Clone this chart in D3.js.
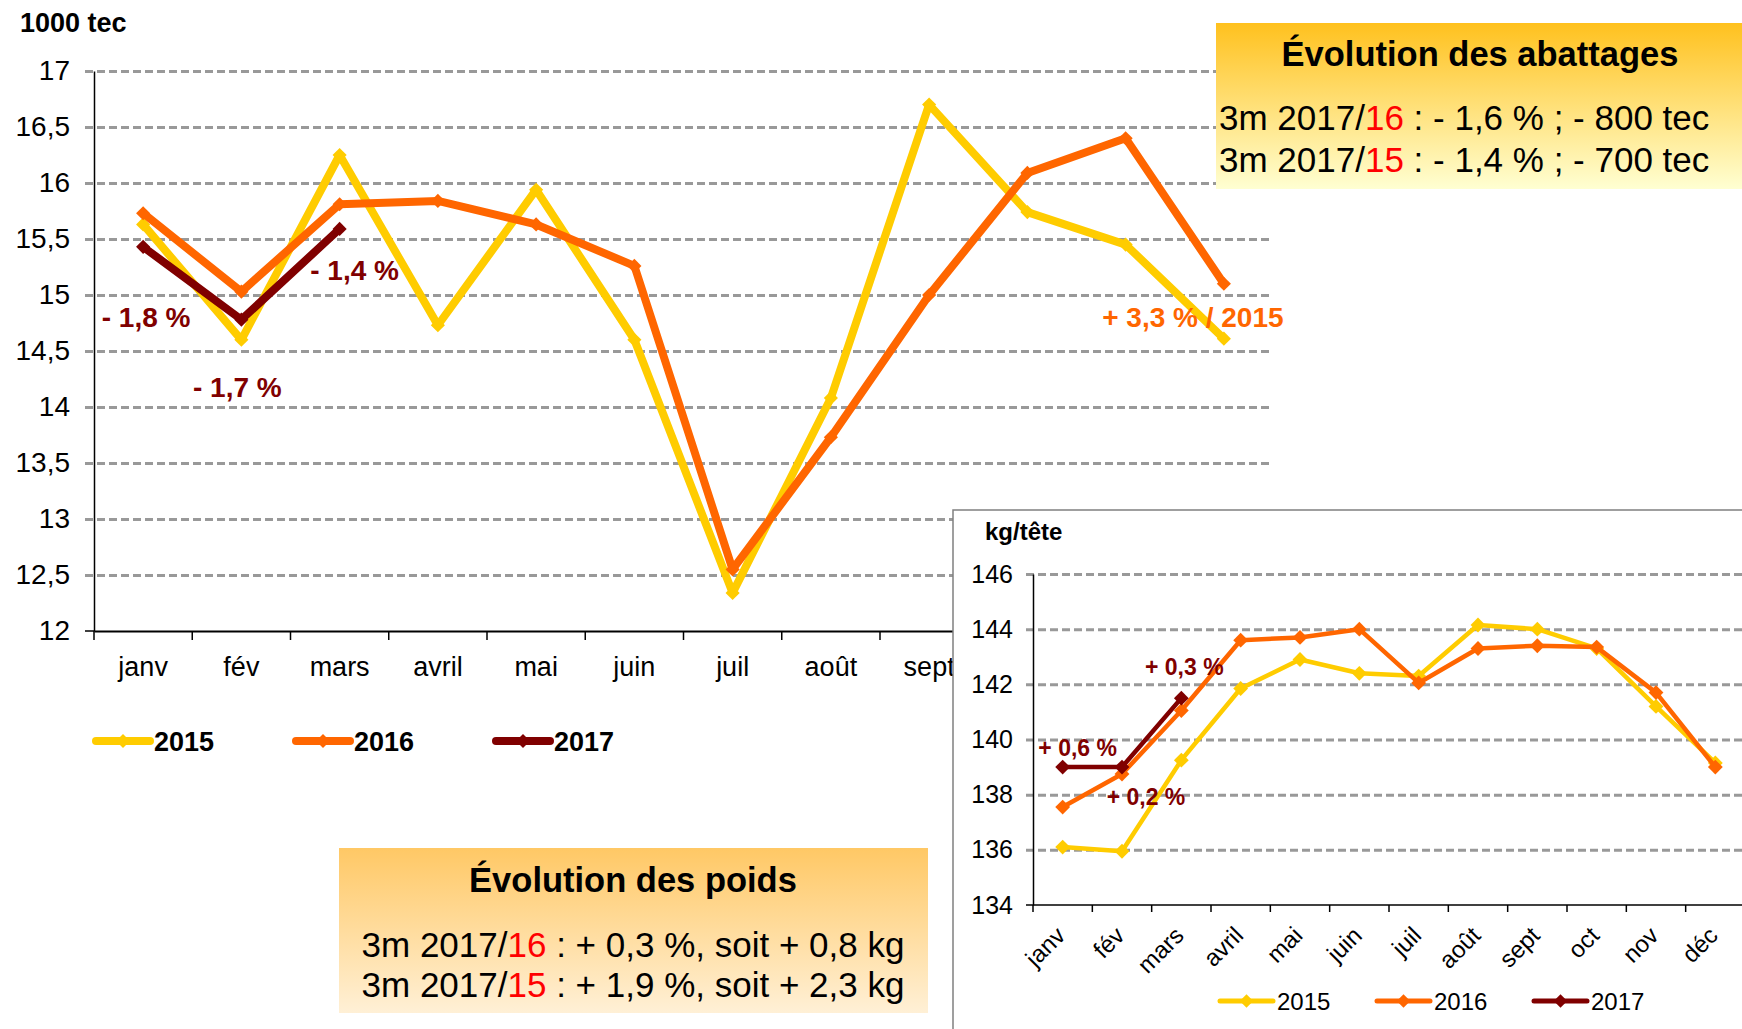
<!DOCTYPE html>
<html>
<head>
<meta charset="utf-8">
<script src="https://cdn.jsdelivr.net/npm/d3@7"></script>
<style>
  body { margin: 0; background: #fff; }
  svg { display: block; font-family: "Liberation Sans", Arial, sans-serif; }
</style>
</head>
<body>
<div id="chart"></div>
<script>
// months (same for both charts)
const months = ['janv', 'fév', 'mars', 'avril', 'mai', 'juin', 'juil', 'août', 'sept', 'oct', 'nov', 'déc'];
const years = ['2015', '2016', '2017'];
const colors = ['#FFCC00', '#FF6600', '#800000'];

// abattages, 1000 tec
const abat2015 = [15.63, 14.60, 16.25, 14.73, 15.94, 14.60, 12.34, 14.08, 16.70, 15.74, 15.45, 14.61];
const abat2016 = [15.73, 15.03, 15.81, 15.84, 15.63, 15.26, 12.55, 13.73, 15.00, 16.09, 16.40, 15.10];
const abat2017 = [15.43, 14.78, 15.59];
const abatTicks = [12, 12.5, 13, 13.5, 14, 14.5, 15, 15.5, 16, 16.5, 17];

// poids, kg/tête
const poids2015 = [136.1, 135.95, 139.25, 141.85, 142.9, 142.4, 142.3, 144.15, 144.0, 143.3, 141.2, 139.15];
const poids2016 = [137.55, 138.75, 141.05, 143.6, 143.7, 144.0, 142.05, 143.3, 143.4, 143.35, 141.7, 139.0];
const poids2017 = [139.0, 139.0, 141.5];
const poidsTicks = [134, 136, 138, 140, 142, 144, 146];

// annotations: text, month, value, x shift
const abatNotes = [
  { text: '- 1,8 %', m: 'janv', v: 14.80, dx: 3, color: '#800000' },
  { text: '- 1,7 %', m: 'fév', v: 14.18, dx: -4, color: '#800000' },
  { text: '- 1,4 %', m: 'mars', v: 15.22, dx: 15, color: '#800000' },
  { text: '+ 3,3 % / 2015', m: 'déc', v: 14.80, dx: -31, color: '#FF6600' },
];
const poidsNotes = [
  { text: '+ 0,6 %', m: 'janv', v: 139.70, dx: 15 },
  { text: '+ 0,2 %', m: 'fév', v: 137.92, dx: 24 },
  { text: '+ 0,3 %', m: 'mars', v: 142.64, dx: 3 },
];

const fmt = d => String(d).replace('.', ',');
const width = 1742;
const height = 1029;
const insetLeft = 953;

const svg = d3.select('#chart').append('svg')
  .attr('width', width)
  .attr('height', height);

const defs = svg.append('defs');
function gradient(id, top, bottom) {
  const g = defs.append('linearGradient').attr('id', id)
    .attr('x1', 0).attr('y1', 0).attr('x2', 0).attr('y2', 1);
  g.append('stop').attr('offset', '0%').attr('stop-color', top);
  g.append('stop').attr('offset', '100%').attr('stop-color', bottom);
}
gradient('gradAbat', '#FFC11E', '#FFFFD2');
gradient('gradPoids', '#FFC865', '#FFF0D6');

const diamond = d3.symbol().type(d3.symbolSquare);

function drawSeries(g, series, x, y, lw, msize) {
  const xc = m => x(m) + x.bandwidth() / 2;
  const line = d3.line()
    .x((d, i) => xc(months[i]))
    .y(d => y(d));
  series.forEach((vals, k) => {
    g.append('path')
      .datum(vals)
      .attr('d', line)
      .attr('fill', 'none')
      .attr('stroke', colors[k])
      .attr('stroke-width', lw)
      .attr('stroke-linejoin', 'round');
    g.append('g').selectAll('path')
      .data(vals)
      .join('path')
      .attr('d', diamond.size(msize)())
      .attr('transform', (d, i) => `translate(${xc(months[i])},${y(d)}) rotate(45)`)
      .attr('fill', colors[k]);
  });
}

// ---------- main chart : abattages ----------
const mx = d3.scaleBand().domain(months).range([94, 1273]);
const my = d3.scaleLinear().domain([12, 17]).range([631, 71]);
const main = svg.append('g');

main.append('g')
  .attr('transform', 'translate(85,0)')
  .call(d3.axisLeft(my).tickValues(abatTicks.slice(1)).tickFormat('').tickSize(-(1273 - 85)))
  .call(g => g.select('.domain').remove())
  .call(g => g.selectAll('line')
    .attr('stroke', '#999').attr('stroke-width', 3).attr('stroke-dasharray', '8,4'));

main.append('g')
  .attr('transform', 'translate(94,0)')
  .call(d3.axisLeft(my).tickValues(abatTicks).tickFormat(fmt).tickSize(0).tickPadding(24))
  .call(g => g.select('.domain').attr('stroke', '#000').attr('stroke-width', 1.5))
  .call(g => g.selectAll('text').attr('font-size', 28).attr('fill', '#000')
    .attr('font-family', '"Liberation Sans", Arial, sans-serif'));

main.append('g')
  .attr('transform', 'translate(0,631)')
  .call(d3.axisBottom(mx).tickSize(0).tickPadding(26))
  .call(g => g.select('.domain').attr('stroke', '#000').attr('stroke-width', 2))
  .call(g => g.selectAll('text').attr('font-size', 27).attr('fill', '#000')
    .attr('font-family', '"Liberation Sans", Arial, sans-serif'))
  // labels fully covered by the inset are dropped
  .call(g => g.selectAll('.tick').filter(d => mx(d) > insetLeft).remove());

// tick marks between months
main.append('g').selectAll('line')
  .data(months.concat(['end']))
  .join('line')
  .attr('x1', d => d === 'end' ? mx.range()[1] : mx(d))
  .attr('x2', d => d === 'end' ? mx.range()[1] : mx(d))
  .attr('y1', 631).attr('y2', 640)
  .attr('stroke', '#000').attr('stroke-width', 1.5);
main.append('line')
  .attr('x1', 85).attr('x2', 94).attr('y1', my(12)).attr('y2', my(12))
  .attr('stroke', '#000').attr('stroke-width', 1.5);

drawSeries(main, [abat2015, abat2016, abat2017], mx, my, 8, 100);

main.append('text')
  .attr('x', 20).attr('y', 32)
  .attr('font-size', 27).attr('font-weight', 'bold')
  .text('1000 tec');

main.append('g').selectAll('text')
  .data(abatNotes)
  .join('text')
  .attr('x', d => mx(d.m) + mx.bandwidth() / 2 + d.dx)
  .attr('y', d => my(d.v))
  .attr('dy', '0.35em')
  .attr('text-anchor', 'middle')
  .attr('font-size', 28).attr('font-weight', 'bold')
  .attr('fill', d => d.color)
  .text(d => d.text);

// legend
const mleg = main.append('g').selectAll('g')
  .data(years)
  .join('g')
  .attr('transform', (d, i) => `translate(${96 + i * 200},741)`);
mleg.append('line')
  .attr('x1', 0).attr('x2', 54)
  .attr('stroke', (d, i) => colors[i]).attr('stroke-width', 8).attr('stroke-linecap', 'round');
mleg.append('path')
  .attr('d', diamond.size(100)())
  .attr('transform', 'translate(27,0) rotate(45)')
  .attr('fill', (d, i) => colors[i]);
mleg.append('text')
  .attr('x', 58).attr('dy', '0.36em')
  .attr('font-size', 27).attr('font-weight', 'bold')
  .text(d => d);

// ---------- box : évolution des abattages ----------
const box1 = svg.append('g');
box1.append('rect')
  .attr('x', 1216).attr('y', 23).attr('width', width - 1216).attr('height', 166)
  .attr('fill', 'url(#gradAbat)');
box1.append('text')
  .attr('x', 1480).attr('y', 66)
  .attr('text-anchor', 'middle')
  .attr('font-size', 34.5).attr('font-weight', 'bold')
  .text('Évolution des abattages');
const abatLines = [
  ['3m 2017/', '16', ' : - 1,6 % ; - 800 tec'],
  ['3m 2017/', '15', ' : - 1,4 % ; - 700 tec'],
];
abatLines.forEach((parts, i) => {
  const t = box1.append('text')
    .attr('x', 1219).attr('y', 130 + i * 42)
    .attr('font-size', 35);
  parts.forEach((p, j) => t.append('tspan').attr('fill', j === 1 ? '#FF0000' : '#000').text(p));
});

// ---------- box : évolution des poids ----------
const box2 = svg.append('g');
box2.append('rect')
  .attr('x', 339).attr('y', 848).attr('width', 589).attr('height', 165)
  .attr('fill', 'url(#gradPoids)');
box2.append('text')
  .attr('x', 633).attr('y', 892)
  .attr('text-anchor', 'middle')
  .attr('font-size', 34.5).attr('font-weight', 'bold')
  .text('Évolution des poids');
const poidsLines = [
  ['3m 2017/', '16', ' : + 0,3 %, soit + 0,8 kg'],
  ['3m 2017/', '15', ' : + 1,9 %, soit + 2,3 kg'],
];
poidsLines.forEach((parts, i) => {
  const t = box2.append('text')
    .attr('x', 633).attr('y', 957 + i * 40)
    .attr('text-anchor', 'middle')
    .attr('font-size', 35);
  parts.forEach((p, j) => t.append('tspan').attr('fill', j === 1 ? '#FF0000' : '#000').text(p));
});

// ---------- inset chart : poids ----------
const inset = svg.append('g');
inset.append('rect')
  .attr('x', insetLeft).attr('y', 510).attr('width', width - insetLeft + 5).attr('height', height - 510 + 5)
  .attr('fill', '#fff').attr('stroke', '#808080').attr('stroke-width', 1.5);

const ix = d3.scaleBand().domain(months).range([1033, 1745]);
const iy = d3.scaleLinear().domain([134, 146]).range([905, 574]);

inset.append('g')
  .attr('transform', 'translate(1026,0)')
  .call(d3.axisLeft(iy).tickValues(poidsTicks.slice(1)).tickFormat('').tickSize(-(width - 1026)))
  .call(g => g.select('.domain').remove())
  .call(g => g.selectAll('line')
    .attr('stroke', '#999').attr('stroke-width', 3).attr('stroke-dasharray', '8,4'));

inset.append('g')
  .attr('transform', 'translate(1033,0)')
  .call(d3.axisLeft(iy).tickValues(poidsTicks).tickFormat(fmt).tickSize(0).tickPadding(20))
  .call(g => g.select('.domain').attr('stroke', '#000').attr('stroke-width', 1.5))
  .call(g => g.selectAll('text').attr('font-size', 25).attr('fill', '#000')
    .attr('font-family', '"Liberation Sans", Arial, sans-serif'));

inset.append('line')
  .attr('x1', 1033).attr('x2', width).attr('y1', iy(134)).attr('y2', iy(134))
  .attr('stroke', '#000').attr('stroke-width', 1.5);
inset.append('line')
  .attr('x1', 1026).attr('x2', 1033).attr('y1', iy(134)).attr('y2', iy(134))
  .attr('stroke', '#000').attr('stroke-width', 1.5);
inset.append('g').selectAll('line')
  .data(months)
  .join('line')
  .attr('x1', d => ix(d)).attr('x2', d => ix(d))
  .attr('y1', iy(134)).attr('y2', iy(134) + 7)
  .attr('stroke', '#000').attr('stroke-width', 1.5);

inset.append('g').selectAll('text')
  .data(months)
  .join('text')
  .attr('transform', d => `translate(${ix(d) + ix.bandwidth() / 2 + 4},937) rotate(-45)`)
  .attr('text-anchor', 'end')
  .attr('font-size', 24)
  .text(d => d);

drawSeries(inset, [poids2015, poids2016, poids2017], ix, iy, 4.5, 110);

inset.append('text')
  .attr('x', 985).attr('y', 540)
  .attr('font-size', 24).attr('font-weight', 'bold')
  .text('kg/tête');

inset.append('g').selectAll('text')
  .data(poidsNotes)
  .join('text')
  .attr('x', d => ix(d.m) + ix.bandwidth() / 2 + d.dx)
  .attr('y', d => iy(d.v))
  .attr('dy', '0.35em')
  .attr('text-anchor', 'middle')
  .attr('font-size', 23).attr('font-weight', 'bold')
  .attr('fill', '#800000')
  .text(d => d.text);

const ileg = inset.append('g').selectAll('g')
  .data(years)
  .join('g')
  .attr('transform', (d, i) => `translate(${1220 + i * 157},1001)`);
ileg.append('line')
  .attr('x1', 0).attr('x2', 53)
  .attr('stroke', (d, i) => colors[i]).attr('stroke-width', 5).attr('stroke-linecap', 'round');
ileg.append('path')
  .attr('d', diamond.size(90)())
  .attr('transform', 'translate(26.5,0) rotate(45)')
  .attr('fill', (d, i) => colors[i]);
ileg.append('text')
  .attr('x', 57).attr('dy', '0.36em')
  .attr('font-size', 24)
  .text(d => d);
</script>
</body>
</html>
